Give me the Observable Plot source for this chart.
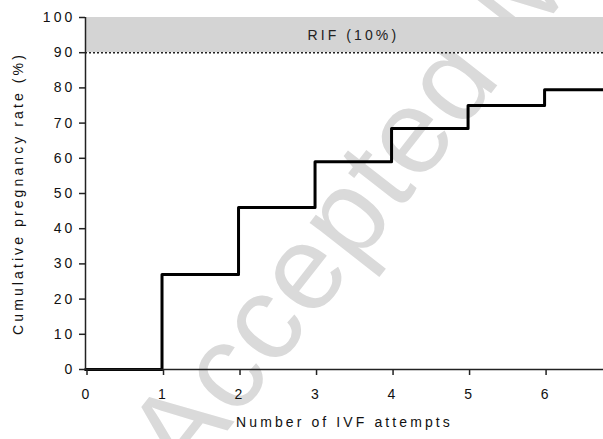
<!DOCTYPE html>
<html>
<head>
<meta charset="utf-8">
<script src="https://cdn.jsdelivr.net/npm/d3@7"></script>
<script src="https://cdn.jsdelivr.net/npm/@observablehq/plot@0.6"></script>
<style>
  html, body { margin: 0; padding: 0; background: #fff; }
</style>
</head>
<body>
<div id="chart"></div>
<script>
// Data
const attempts = [0, 1, 2, 3, 4, 5, 6, 6.77];
const rates    = [0, 27, 46, 59, 68.5, 75, 79.5, 79.5];
const xTicks = [0, 1, 2, 3, 4, 5, 6];
const yTicks = [0, 10, 20, 30, 40, 50, 60, 70, 80, 90, 100];
const rifLow = 90, rifHigh = 100;
const rifLabel = "RIF (10%)";
const xTitle = "Number of IVF attempts";
const yTitle = "Cumulative pregnancy rate (%)";
const watermark = "Accepted Manuscript";
const xMax = 6.77;

const data = attempts.map((x, i) => ({x, y: rates[i]}));
const FONT = "'Liberation Sans', Arial, sans-serif";
const FS = 14;

const chart = Plot.plot({
  width: 603,
  height: 439,
  marginLeft: 85,
  marginRight: 0,
  marginTop: 17,
  marginBottom: 70,
  style: {fontFamily: FONT, fontSize: "14px", letterSpacing: "3.1px", color: "#111", background: "#fff"},
  x: {domain: [0, xMax]},
  y: {domain: [0, 100]},
  marks: [
    Plot.text([watermark], {frameAnchor: "bottom-left", dx: 100, dy: 115, rotate: -52, fontSize: 120, fill: "#dadada", textAnchor: "start", lineAnchor: "bottom", fontFamily: FONT, stroke: "none"}),
    Plot.rect([{x1: 0, x2: xMax, y1: rifLow, y2: rifHigh}], {x1: "x1", x2: "x2", y1: "y1", y2: "y2", fill: "#d4d4d4"}),
    Plot.ruleY([rifLow], {stroke: "#222", strokeWidth: 1.5, strokeDasharray: "2,2"}),
    Plot.text([rifLabel], {x: 3.5, y: 95, fill: "#222", fontSize: FS}),
    Plot.line(data, {x: "x", y: "y", curve: "step-after", stroke: "#000", strokeWidth: 3}),
    Plot.axisX({ticks: xTicks, tickSize: 6, tickPadding: 14, fontSize: FS, dx: 1.5, tickFormat: d3.format("d"), label: null, stroke: "#222", strokeWidth: 1.5}),
    Plot.axisY({ticks: yTicks, tickSize: 6, tickPadding: 4, fontSize: FS, label: null, stroke: "#222", strokeWidth: 1.5}),
    Plot.ruleY([0], {stroke: "#222", strokeWidth: 1.5}),
    Plot.ruleX([0], {y1: 0, y2: 100, stroke: "#222", strokeWidth: 1.5}),
    Plot.text([xTitle], {frameAnchor: "bottom", dy: 57, fill: "#111", fontSize: FS}),
    Plot.text([yTitle], {frameAnchor: "left", dx: -67, rotate: -90, textAnchor: "middle", fill: "#111", fontSize: FS})
  ]
});
d3.select(chart).selectAll("text").filter(function () { return this.textContent === watermark; }).style("letter-spacing", "2px");
document.getElementById("chart").appendChild(chart);
</script>
</body>
</html>
